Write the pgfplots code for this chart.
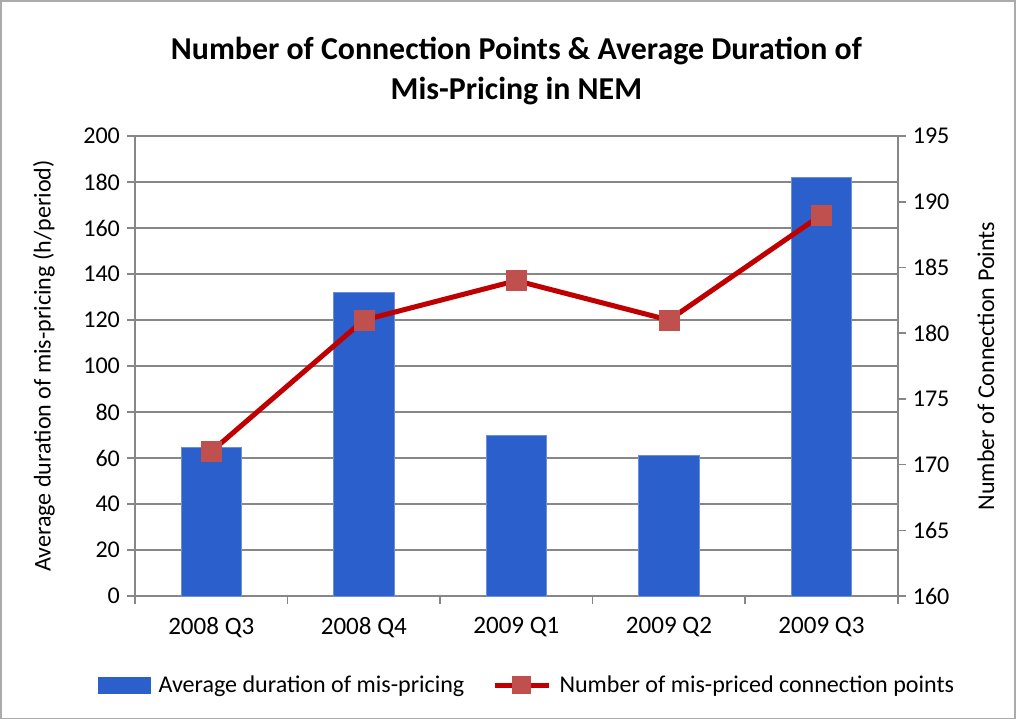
\documentclass[border=0pt]{standalone}
\usepackage{fontspec}
\setmainfont{Carlito}
\usepackage{pgfplots}
\pgfplotsset{compat=1.18}

\definecolor{barblue}{HTML}{2B5FCB}
\definecolor{linered}{HTML}{C00000}
\definecolor{markred}{HTML}{C0504D}
\definecolor{gridgray}{HTML}{878787}

\pgfplotsset{
  base/.style={
    scale only axis,
    width=380.5pt, height=229.5pt,
    xmin=-0.5, xmax=4.5,
    axis line style={gridgray, line width=0.8pt},
    tick style={gridgray, line width=0.8pt},
    tick align=outside,
    major tick length=4pt,
    ticklabel style={font=\fontsize{12}{14}\selectfont},
    /pgf/number format/assume math mode=true,
    label style={font=\fontsize{12}{14}\selectfont},
  }
}

\begin{document}
\begin{tikzpicture}
\begin{axis}[
  base,
  ymin=0, ymax=200, ytick={0,20,...,200},
  axis y line*=left,
  axis x line*=bottom,
  xtick={0,1,2,3,4},
  xticklabels={2008 Q3,2008 Q4,2009 Q1,2009 Q2,2009 Q3},
  xticklabel style={font=\fontsize{12.5}{14}\selectfont, yshift=-3pt},
  major x tick style={draw=none},
  minor xtick={-0.5,0.5,...,4.5},
  minor tick length=4pt,
  ymajorgrids, grid style={gridgray, line width=0.8pt},
  ylabel={Average duration of mis-pricing (h/period)},
  ylabel style={at={(rel axis cs:-0.1196,0.5)}, anchor=center},
  title={Number of Connection Points \& Average Duration of\\Mis-Pricing in NEM},
  title style={align=center, font=\bfseries\fontsize{15.9}{20}\selectfont, yshift=6pt},
  clip=false,
]
\addplot[ybar, bar width=30pt, fill=barblue, draw=barblue!70!white] coordinates {
  (0,64.5) (1,132) (2,70) (3,61) (4,182)
};
\draw[gridgray!70, line width=0.8pt] (rel axis cs:-0.176,-0.266) rectangle (rel axis cs:1.154,1.294);
\end{axis}
\begin{axis}[
  base,
  ymin=160, ymax=195, ytick={160,165,...,195},
  axis y line*=right,
  axis x line=none,
  ylabel={Number of Connection Points},
  ylabel style={at={(rel axis cs:1.1156,0.5)}, anchor=center},
  legend style={at={(0.515,-0.194)}, anchor=center, draw=none, legend columns=2,
    font=\fontsize{12}{14}\selectfont, column sep=2pt,
    /tikz/every even column/.append style={column sep=12pt}},
  legend cell align=left,
]
\addlegendimage{legend image code/.code={\fill[barblue] (0pt,-4.2pt) rectangle (26pt,4.2pt);}}
\addlegendentry{Average duration of mis-pricing}
\addplot[linered, line width=2.5pt, mark=square*, mark size=5pt,
  mark options={fill=markred, draw=markred, line width=0.3pt},
  legend image code/.code={
    \draw[linered, line width=2.5pt] (0pt,0pt) -- (27pt,0pt);
    \fill[markred] (10pt,-3.3pt) rectangle (17pt,3.3pt);}] coordinates {
  (0,171) (1,181) (2,184) (3,181) (4,189)
};
\addlegendentry{Number of mis-priced connection points}
\end{axis}
\end{tikzpicture}
\end{document}
